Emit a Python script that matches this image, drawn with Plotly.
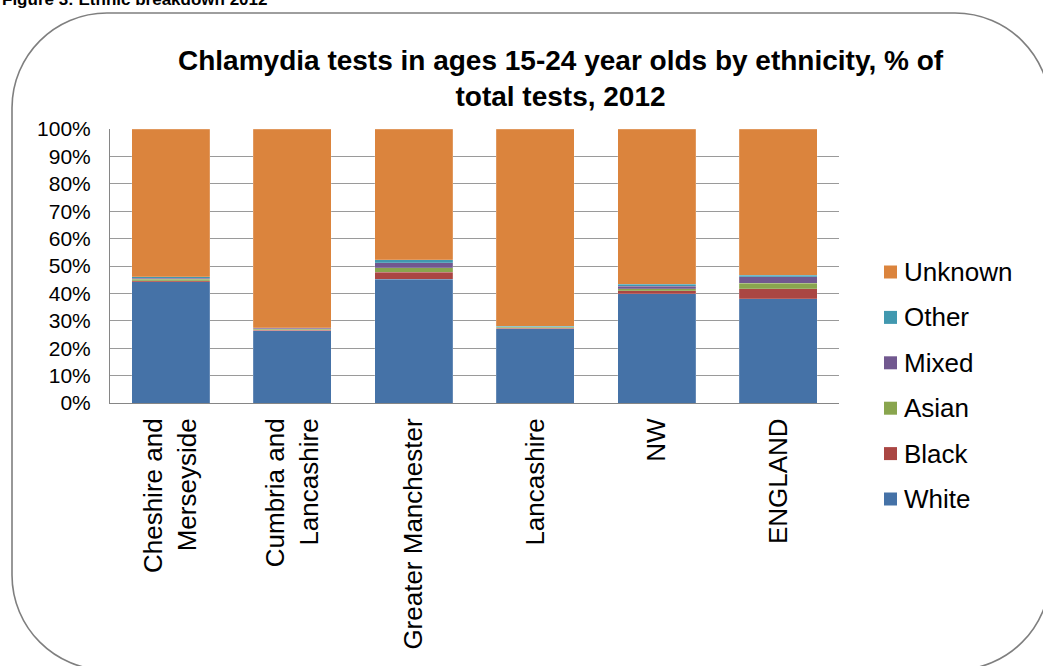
import plotly.graph_objects as go

# Chlamydia tests, ages 15-24, share of total tests by ethnicity (%), 2012
areas = ["Cheshire and<br>Merseyside", "Cumbria and<br>Lancashire", "Greater Manchester",
         "Lancashire", "NW", "ENGLAND"]
white = [44.2, 26.3, 45.1, 27.1, 39.9, 38.0]
black = [0.5, 0.2, 2.7, 0.2, 1.1, 3.7]
asian = [0.5, 0.4, 1.5, 0.3, 0.7, 2.0]
mixed = [0.3, 0.3, 1.9, 0.3, 1.0, 2.4]
other = [0.6, 0.3, 1.0, 0.2, 0.6, 0.6]
unknown = [53.9, 72.5, 47.8, 71.9, 56.7, 53.3]

series = [
    ("White", white, "#4572A7"),
    ("Black", black, "#AA4643"),
    ("Asian", asian, "#89A54E"),
    ("Mixed", mixed, "#71588F"),
    ("Other", other, "#4198AF"),
    ("Unknown", unknown, "#DB843D"),
]

W, H = 1043, 666
ML, MR, MT, MB = 110, 204, 129, 263
PW, PH = W - ML - MR, H - MT - MB
FONT = "Liberation Sans, Arial, sans-serif"

fig = go.Figure()
for name, vals, col in series:
    fig.add_trace(go.Bar(
        x=areas, y=vals, name=name, showlegend=False,
        marker=dict(color=col, line=dict(color="rgba(255,255,255,0.35)", width=0.5)),
    ))


def px(x, y):
    """Convert page pixels to paper coordinates."""
    return (x - ML) / PW, (H - MB - y) / PH


def pt(x, y):
    a, b = px(x, y)
    return f"{a:.5f},{b:.5f}"


# rounded frame around the chart
L, T, R, B, rad = 12, 13, 1050, 670, 95
k = 0.5523 * rad
path = (
    f"M {pt(L + rad, T)} L {pt(R - rad, T)} "
    f"C {pt(R - rad + k, T)} {pt(R, T + rad - k)} {pt(R, T + rad)} "
    f"L {pt(R, B - rad)} "
    f"C {pt(R, B - rad + k)} {pt(R - rad + k, B)} {pt(R - rad, B)} "
    f"L {pt(L + rad, B)} "
    f"C {pt(L + rad - k, B)} {pt(L, B - rad + k)} {pt(L, B - rad)} "
    f"L {pt(L, T + rad)} "
    f"C {pt(L, T + rad - k)} {pt(L + rad - k, T)} {pt(L + rad, T)} Z"
)
fig.add_shape(type="path", path=path, xref="paper", yref="paper",
              line=dict(color="#7f7f7f", width=1.6), layer="below")

# legend: Unknown on top down to White, square swatch + label
leg_x, leg_y0, leg_dy, sw = 884, 272, 45.4, 13
for i, (name, vals, col) in enumerate(reversed(series)):
    cy = leg_y0 + i * leg_dy
    x0, y0 = px(leg_x, cy + sw / 2)
    x1, y1 = px(leg_x + sw, cy - sw / 2)
    fig.add_shape(type="rect", xref="paper", yref="paper", x0=x0, y0=y0, x1=x1, y1=y1,
                  fillcolor=col, line=dict(width=0))
    lx, ly = px(leg_x + sw + 5, cy)
    fig.add_annotation(text=name, xref="paper", yref="paper", x=lx, y=ly,
                       xanchor="left", yanchor="middle", showarrow=False,
                       font=dict(family=FONT, size=26, color="#000000"))

tx, ty = px(561, 79)
fig.add_annotation(
    text="<b>Chlamydia tests in ages 15-24 year olds by ethnicity, % of<br>total tests, 2012</b>",
    xref="paper", yref="paper", x=tx, y=ty, xanchor="center", yanchor="middle",
    showarrow=False, font=dict(family=FONT, size=28, color="#000000"),
)

hx, hy = px(0, 11)
fig.add_annotation(
    text="<b>Figure 3: Ethnic breakdown 2012</b>",
    xref="paper", yref="paper", x=hx, y=hy, xanchor="left", yanchor="bottom",
    showarrow=False, font=dict(family=FONT, size=17, color="#000000"),
)

fig.update_layout(
    width=W, height=H,
    margin=dict(l=ML, r=MR, t=MT, b=MB),
    barmode="stack", bargap=0.36,
    paper_bgcolor="white", plot_bgcolor="white",
    font=dict(family=FONT, color="#000000"),
    showlegend=False,
)
fig.update_xaxes(
    tickangle=-90, tickfont=dict(family=FONT, size=26),
    showline=True, linecolor="#868686", linewidth=1,
    showgrid=False, ticks="", ticklabelstandoff=4,
)
fig.update_yaxes(
    range=[0, 100], dtick=10, ticksuffix="%",
    tickfont=dict(family=FONT, size=21),
    showline=True, linecolor="#868686", linewidth=1,
    showgrid=True, gridcolor="#9a9a9a", gridwidth=1,
    ticks="", ticklabelstandoff=14, zeroline=False,
)

fig.write_html("out.html")
